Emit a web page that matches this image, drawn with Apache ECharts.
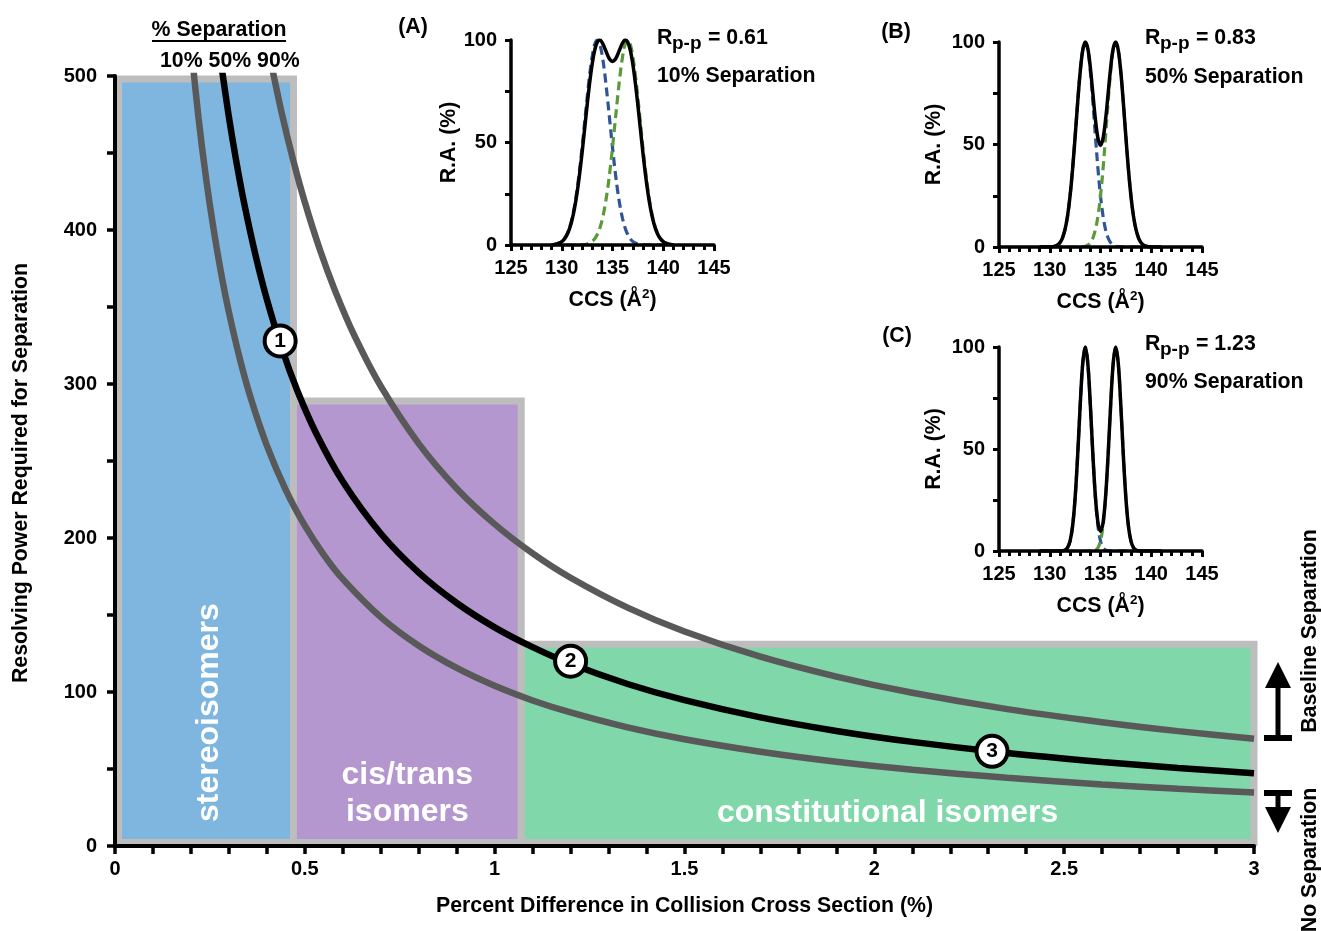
<!DOCTYPE html>
<html>
<head>
<meta charset="utf-8">
<script src="https://cdn.jsdelivr.net/npm/echarts@6/dist/echarts.min.js"></script>
<style>
  html, body { margin: 0; padding: 0; background: #fff; }
  #chart { width: 1321px; height: 931px; }
</style>
</head>
<body>
<div id="chart"></div>
<script>
const FONT = '"Liberation Sans", Arial, Helvetica, sans-serif';

// ---- Resolving power required vs. percent CCS difference ----
const sep10Pct = [0.2,0.22,0.24,0.26,0.28,0.3,0.33,0.36,0.4,0.45,0.5,0.55,0.6,0.7,0.8,0.9,1.0,1.1,1.2,1.35,1.5,1.7,1.9,2.1,2.35,2.6,2.8,3.0];
const sep10RP  = [520,472.7,433.3,400,371.4,346.7,315.2,288.9,260,231.1,208,189.1,173.3,148.6,130,115.6,104,94.5,86.7,77,69.3,61.2,54.7,49.5,44.3,40,37.1,34.7];

const sep50Pct = [0.28,0.3,0.32,0.34,0.37,0.4,0.44,0.48,0.53,0.6,0.7,0.8,0.9,1.0,1.1,1.2,1.35,1.5,1.7,1.9,2.1,2.35,2.6,2.8,3.0];
const sep50RP  = [507.1,473.3,443.8,417.6,383.8,355,322.7,295.8,267.9,236.7,202.9,177.5,157.8,142,129.1,118.3,105.2,94.7,83.5,74.7,67.6,60.4,54.6,50.7,47.3];

const sep90Pct = [0.41,0.44,0.47,0.5,0.54,0.58,0.63,0.7,0.8,0.9,1.0,1.1,1.2,1.35,1.5,1.7,1.9,2.1,2.35,2.6,2.8,3.0];
const sep90RP  = [509.8,475,444.7,418,387,360.3,331.7,298.6,261.3,232.2,209,190,174.2,154.8,139.3,122.9,110,99.5,88.9,80.4,74.6,69.7];

// Isomer classes: % difference range and typical resolving power ceiling
const classNames = ['stereoisomers', 'cis/trans\nisomers', 'constitutional isomers'];
const classStart = [0, 0.47, 1.07];
const classEnd   = [0.47, 1.07, 3];
const classTop   = [498, 289, 131];

// Numbered points on the 50% curve
const markerPct   = [0.435, 1.2, 2.31];
const markerRP    = [328, 120, 61.5];
const markerLabel = ['1', '2', '3'];

// ---- Inset peak profiles (relative abundance vs CCS) ----
const ccsGrid = [129,129.25,129.5,129.75,130,130.25,130.5,130.75,131,131.25,131.5,131.75,132,132.25,132.5,132.75,133,133.25,133.5,133.75,134,134.25,134.5,134.75,135,135.25,135.5,135.75,136,136.25,136.5,136.75,137,137.25,137.5,137.75,138,138.25,138.5,138.75,139,139.25,139.5,139.75,140,140.25,140.5,140.75,141];

// (A) Rp-p = 0.61
const peakA_first  = [0.12,0.26,0.51,0.96,1.74,3.05,5.11,8.21,12.68,18.77,26.66,36.34,47.54,59.67,71.86,83.04,92.07,97.96,100,97.96,92.07,83.04,71.86,59.67,47.54,36.34,26.66,18.77,12.68,8.21,5.11,3.05,1.74,0.96,0.51,0.26,0.12,0.06,0.03,0.01,0,0,0,0,0,0,0,0,0];
const peakA_second = [0,0,0,0,0,0,0,0,0,0.01,0.03,0.06,0.12,0.26,0.51,0.96,1.74,3.05,5.11,8.21,12.68,18.77,26.66,36.34,47.54,59.67,71.86,83.04,92.07,97.96,100,97.96,92.07,83.04,71.86,59.67,47.54,36.34,26.66,18.77,12.68,8.21,5.11,3.05,1.74,0.96,0.51,0.26,0.12];
const peakA_total  = [0.11,0.24,0.48,0.90,1.64,2.87,4.81,7.73,11.94,17.68,25.13,34.28,44.88,56.43,68.15,79.10,88.33,95.11,98.97,99.97,98.64,95.87,92.77,90.41,89.53,90.41,92.77,95.87,98.64,99.97,98.97,95.11,88.33,79.10,68.15,56.43,44.88,34.28,25.13,17.68,11.94,7.73,4.81,2.87,1.64,0.90,0.48,0.24,0.11];

// (B) Rp-p = 0.83
const peakB_first  = [0,0,0.01,0.02,0.05,0.15,0.39,0.94,2.11,4.39,8.47,15.10,24.94,38.12,53.94,70.66,85.70,96.22,100,96.22,85.70,70.66,53.94,38.12,24.94,15.10,8.47,4.39,2.11,0.94,0.39,0.15,0.05,0.02,0.01,0,0,0,0,0,0,0,0,0,0,0,0,0,0];
const peakB_second = [0,0,0,0,0,0,0,0,0,0,0,0,0,0,0.01,0.02,0.05,0.15,0.39,0.94,2.11,4.39,8.47,15.10,24.94,38.12,53.94,70.66,85.70,96.22,100,96.22,85.70,70.66,53.94,38.12,24.94,15.10,8.47,4.39,2.11,0.94,0.39,0.15,0.05,0.02,0.01,0,0];
const peakB_total  = [0,0,0.01,0.02,0.05,0.15,0.39,0.94,2.10,4.37,8.44,15.04,24.84,37.97,53.73,70.40,85.41,95.99,100,96.77,87.46,74.75,62.16,53.01,49.68,53.01,62.16,74.75,87.46,96.77,100,95.99,85.41,70.40,53.73,37.97,24.84,15.04,8.44,4.37,2.10,0.94,0.39,0.15,0.05,0.02,0.01,0,0];

// (C) Rp-p = 1.23
const peakC_first  = [0,0,0,0,0,0,0,0,0.02,0.11,0.46,1.63,4.86,12.25,26.09,46.96,71.47,91.95,100,91.95,71.47,46.96,26.09,12.25,4.86,1.63,0.46,0.11,0.02,0,0,0,0,0,0,0,0,0,0,0,0,0,0,0,0,0,0,0,0];
const peakC_second = [0,0,0,0,0,0,0,0,0,0,0,0,0,0,0,0,0,0,0,0,0.02,0.11,0.46,1.63,4.86,12.25,26.09,46.96,71.47,91.95,100,91.95,71.47,46.96,26.09,12.25,4.86,1.63,0.46,0.11,0.02,0,0,0,0,0,0,0,0];
const peakC_total  = [0,0,0,0,0,0,0,0,0.02,0.11,0.46,1.63,4.86,12.25,26.09,46.96,71.47,91.95,100,91.95,71.49,47.07,26.55,13.88,9.72,13.88,26.55,47.07,71.49,91.95,100,91.95,71.47,46.96,26.09,12.25,4.86,1.63,0.46,0.11,0.02,0,0,0,0,0,0,0,0];

const insetLabels = ['(A)', '(B)', '(C)'];
const insetRpp    = ['0.61', '0.83', '1.23'];
const insetSep    = ['10% Separation', '50% Separation', '90% Separation'];

// ---------------------------------------------------------------
const TXT = 21.3;
const zip = (xs, ys) => xs.map((x, i) => [x, ys[i]]);
const txt = (size, extra) => Object.assign({ fontFamily: FONT, fontWeight: 'bold', fontSize: size, color: '#000' }, extra || {});

const classFill = ['#7EB6DF', '#B597D0', '#80D8AA'];
const BORDER = '#BDBDBD';

const mainX = {
  gridIndex: 0, type: 'value', min: 0, max: 3, interval: 0.5, z: 4,
  axisLine: { show: true, onZero: false, lineStyle: { color: '#000', width: 4 } },
  axisTick: { show: true, inside: false, length: 8, lineStyle: { color: '#000', width: 3.5 } },
  minorTick: { show: true, splitNumber: 5, length: 8, lineStyle: { color: '#000', width: 3.5 } },
  splitLine: { show: false }, minorSplitLine: { show: false },
  axisLabel: txt(20, { margin: 13 }),
  name: 'Percent Difference in Collision Cross Section (%)',
  nameLocation: 'middle', nameGap: 50,
  nameTextStyle: txt(TXT)
};
const mainY = {
  gridIndex: 0, type: 'value', min: 0, max: 500, interval: 100, z: 4,
  axisLine: { show: true, onZero: false, lineStyle: { color: '#000', width: 4 } },
  axisTick: { show: true, inside: false, length: 8, lineStyle: { color: '#000', width: 3.5 } },
  minorTick: { show: true, splitNumber: 2, length: 8, lineStyle: { color: '#000', width: 3.5 } },
  splitLine: { show: false }, minorSplitLine: { show: false },
  axisLabel: txt(20, { margin: 18 })
};

function insetX(g) {
  return {
    gridIndex: g, type: 'value', min: 125, max: 145, interval: 5, z: 4,
    axisLine: { show: true, onZero: false, lineStyle: { color: '#000', width: 3.5 } },
    axisTick: { show: true, inside: false, length: 6, lineStyle: { color: '#000', width: 3 } },
    minorTick: { show: true, splitNumber: 5, length: 5, lineStyle: { color: '#000', width: 3 } },
    splitLine: { show: false }, minorSplitLine: { show: false },
    axisLabel: txt(20, { margin: 13 }),
    name: '{a|CCS (Å}{s|2}{a|)}',
    nameLocation: 'middle', nameGap: 42,
    nameTextStyle: txt(TXT, {
      rich: {
        a: txt(TXT, { lineHeight: 26 }),
        s: txt(13.5, { lineHeight: 12, verticalAlign: 'top' })
      }
    })
  };
}
function insetY(g, gap) {
  return {
    gridIndex: g, type: 'value', min: 0, max: 100, interval: 50, z: 4,
    axisLine: { show: true, onZero: false, lineStyle: { color: '#000', width: 3.5 } },
    axisTick: { show: true, inside: false, length: 6, lineStyle: { color: '#000', width: 3 } },
    minorTick: { show: true, splitNumber: 2, length: 6, lineStyle: { color: '#000', width: 3 } },
    splitLine: { show: false }, minorSplitLine: { show: false },
    axisLabel: txt(20, { margin: 14 }),
    name: 'R.A. (%)',
    nameLocation: 'middle', nameGap: gap,
    nameTextStyle: txt(TXT)
  };
}

// Isomer class boxes with their labels
const classSeries = {
  type: 'custom', xAxisIndex: 0, yAxisIndex: 0, z: 1, silent: true,
  data: classNames.map((n, i) => [classStart[i], classEnd[i], classTop[i]]),
  renderItem: (params, api) => {
    const i = params.dataIndex;
    const tl = api.coord([api.value(0), api.value(2)]);
    const br = api.coord([api.value(1), 0]);
    const x0 = tl[0] + (i === 0 ? 3.5 : 0);
    const y0 = tl[1];
    const x1 = br[0];
    const y1 = br[1] - 3.5;
    const cx = (x0 + x1) / 2;
    const children = [{
      type: 'rect',
      shape: { x: x0, y: y0, width: x1 - x0, height: y1 - y0 },
      style: { fill: classFill[i], stroke: BORDER, lineWidth: 7 }
    }];
    const font = { fill: '#fff', fontFamily: FONT, fontWeight: 'bold', fontSize: 32 };
    if (i === 0) {
      children.push({
        type: 'text', x: cx + 3, y: br[1] - 24, rotation: Math.PI / 2,
        style: Object.assign({ text: classNames[i], x: 0, y: 0, align: 'left', textAlign: 'left', verticalAlign: 'middle', textVerticalAlign: 'middle' }, font)
      });
    } else if (i === 1) {
      children.push({
        type: 'text', x: cx, y: br[1] - 52,
        style: Object.assign({ text: classNames[i], x: 0, y: 0, align: 'center', textAlign: 'center', verticalAlign: 'middle', textVerticalAlign: 'middle', lineHeight: 37 }, font)
      });
    } else {
      children.push({
        type: 'text', x: cx, y: br[1] - 33,
        style: Object.assign({ text: classNames[i], x: 0, y: 0, align: 'center', textAlign: 'center', verticalAlign: 'middle', textVerticalAlign: 'middle' }, font)
      });
    }
    return { type: 'group', children };
  }
};

const curve = (name, xs, ys, color) => ({
  name, type: 'line', xAxisIndex: 0, yAxisIndex: 0, z: 3,
  data: zip(xs, ys), smooth: 0.3, showSymbol: false, silent: true,
  lineStyle: { color, width: 6.5 }, clip: true
});

const markers = {
  type: 'scatter', xAxisIndex: 0, yAxisIndex: 0, z: 6, silent: true,
  data: markerPct.map((x, i) => [x, markerRP[i], markerLabel[i]]),
  symbol: 'circle', symbolSize: 31,
  itemStyle: { color: '#fff', borderColor: '#000', borderWidth: 4, opacity: 1 },
  label: { show: true, position: 'inside', formatter: p => p.data[2], color: '#000', fontFamily: FONT, fontWeight: 'bold', fontSize: 21 }
};

const insetSeries = [];
[[peakA_first, peakA_second, peakA_total],
 [peakB_first, peakB_second, peakB_total],
 [peakC_first, peakC_second, peakC_total]].forEach((set, k) => {
  const g = k + 1;
  insetSeries.push({
    type: 'line', xAxisIndex: g, yAxisIndex: g, z: 2, silent: true,
    data: zip(ccsGrid, set[0]), smooth: 0.35, showSymbol: false,
    lineStyle: { color: '#2F5597', width: 3.2, type: [9, 5] }
  });
  insetSeries.push({
    type: 'line', xAxisIndex: g, yAxisIndex: g, z: 2, silent: true,
    data: zip(ccsGrid, set[1]), smooth: 0.35, showSymbol: false,
    lineStyle: { color: '#5A9A3A', width: 3.2, type: [9, 5] }
  });
  insetSeries.push({
    type: 'line', xAxisIndex: g, yAxisIndex: g, z: 3, silent: true,
    data: zip(ccsGrid, set[2]), smooth: 0.35, showSymbol: false,
    lineStyle: { color: '#000', width: 3.5 }
  });
});

// Annotation text and arrows
const gText = (x, y, text, opts) => Object.assign({
  type: 'text', x, y, silent: true,
  style: Object.assign({ text, x: 0, y: 0, fill: '#000', fontFamily: FONT, fontWeight: 'bold', fontSize: TXT,
    align: 'left', textAlign: 'left', verticalAlign: 'middle', textVerticalAlign: 'middle' }, (opts && opts.style) || {})
}, (opts && opts.el) || {});

// "R" with a "p-p" subscript followed by the value
const rppText = (x, y, val) => [
  gText(x, y, 'R'),
  gText(x + 15, y + 6, 'p-p', { style: { fontSize: 19 } }),
  gText(x + 51, y, '= ' + val)
];

const insetTextPos = [
  { tag: [413, 27], rpp: [657, 38], sep: [657, 76] },
  { tag: [896, 32], rpp: [1145, 38], sep: [1145, 77] },
  { tag: [897, 336], rpp: [1145, 344], sep: [1145, 382] }
];

const graphics = [];
graphics.push(gText(219, 30, '% Separation', { style: { align: 'center', textAlign: 'center' } }));
graphics.push({ type: 'line', silent: true, shape: { x1: 152, y1: 41, x2: 286, y2: 41 }, style: { stroke: '#000', lineWidth: 2 } });
graphics.push(gText(160, 61, '10% 50% 90%'));

insetTextPos.forEach((p, k) => {
  graphics.push(gText(p.tag[0], p.tag[1], insetLabels[k], { style: { align: 'center', textAlign: 'center' } }));
  rppText(p.rpp[0], p.rpp[1], insetRpp[k]).forEach(el => graphics.push(el));
  graphics.push(gText(p.sep[0], p.sep[1], insetSep[k]));
});

// Main y-axis title
graphics.push(gText(21, 473, 'Resolving Power Required for Separation', { style: { align: 'center', textAlign: 'center' }, el: { rotation: Math.PI / 2 } }));

// Up arrow (baseline separation) and down arrow (no separation)
graphics.push({ type: 'rect', silent: true, shape: { x: 1264, y: 735, width: 28, height: 6 }, style: { fill: '#000' } });
graphics.push({ type: 'rect', silent: true, shape: { x: 1275.5, y: 685, width: 5, height: 52 }, style: { fill: '#000' } });
graphics.push({ type: 'polygon', silent: true, shape: { points: [[1278, 662], [1265, 688], [1291, 688]] }, style: { fill: '#000' } });
graphics.push({ type: 'rect', silent: true, shape: { x: 1264, y: 790, width: 28, height: 6 }, style: { fill: '#000' } });
graphics.push({ type: 'rect', silent: true, shape: { x: 1275.5, y: 794, width: 5, height: 16 }, style: { fill: '#000' } });
graphics.push({ type: 'polygon', silent: true, shape: { points: [[1265, 807], [1291, 807], [1278, 833]] }, style: { fill: '#000' } });

graphics.push(gText(1310, 631, 'Baseline Separation', { style: { align: 'center', textAlign: 'center' }, el: { rotation: Math.PI / 2 } }));
graphics.push(gText(1310, 860, 'No Separation', { style: { align: 'center', textAlign: 'center' }, el: { rotation: Math.PI / 2 } }));

const chart = echarts.init(document.getElementById('chart'), null, { renderer: 'canvas' });
chart.setOption({
  animation: false,
  backgroundColor: '#fff',
  grid: [
    { left: 115, right: 67, top: 76, bottom: 85, outerBoundsMode: 'none' },
    { left: 511, width: 203, top: 40, height: 205, outerBoundsMode: 'none' },
    { left: 999, width: 203, top: 42, height: 205, outerBoundsMode: 'none' },
    { left: 999, width: 203, top: 347, height: 204, outerBoundsMode: 'none' }
  ],
  xAxis: [mainX, insetX(1), insetX(2), insetX(3)],
  yAxis: [mainY, insetY(1, 47), insetY(2, 54), insetY(3, 54)],
  series: [
    classSeries,
    curve('10% separation', sep10Pct, sep10RP, '#595959'),
    curve('90% separation', sep90Pct, sep90RP, '#595959'),
    curve('50% separation', sep50Pct, sep50RP, '#000'),
    markers
  ].concat(insetSeries),
  graphic: graphics
});
</script>
</body>
</html>
